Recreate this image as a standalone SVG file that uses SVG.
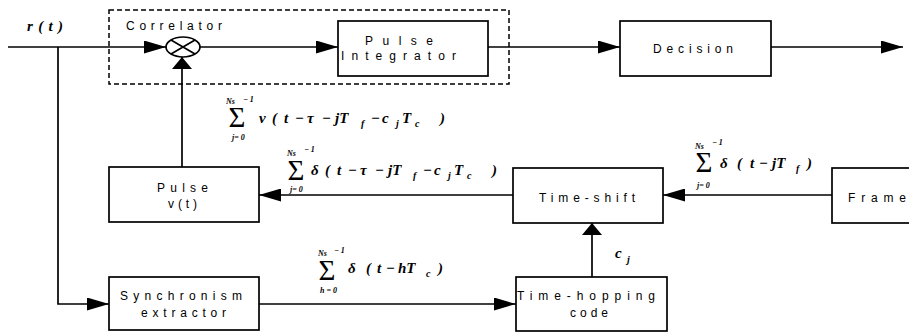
<svg xmlns="http://www.w3.org/2000/svg" width="909" height="333" viewBox="0 0 909 333">
<style>
.box{fill:#fff;stroke:#000;stroke-width:1.7}
.ln{fill:none;stroke:#000;stroke-width:1.7}
.lbl{font-family:"Liberation Sans",Arial,sans-serif;font-size:12px;fill:#000}
.m{font-family:"Liberation Serif","Times New Roman",serif;font-weight:bold;font-style:italic;font-size:15px;fill:#000}
.s{font-family:"Liberation Serif","Times New Roman",serif;font-weight:bold;font-style:italic;font-size:10px;fill:#000}
.i{font-family:"Liberation Serif","Times New Roman",serif;font-weight:bold;font-style:italic;font-size:8px;fill:#000}
.sig{font-family:"Liberation Serif","Times New Roman",serif;font-size:29px;fill:#000;text-anchor:middle}
</style>
<defs>
<marker id="ah" markerWidth="22" markerHeight="13" refX="22" refY="6.5" orient="auto" markerUnits="userSpaceOnUse"><path d="M0,0 L22,6.5 L0,13 z" fill="#000"/></marker>
<marker id="av" markerWidth="12" markerHeight="20" refX="12" refY="10" orient="auto" markerUnits="userSpaceOnUse"><path d="M0,0 L12,10 L0,20 z" fill="#000"/></marker>
</defs>
<rect width="909" height="333" fill="#fff"/>

<g id="input">
<text class="m" x="27" y="31" textLength="36" lengthAdjust="spacing" font-size="16">r ( t )</text>
</g>

<g id="correlator">
<rect x="109" y="10" width="400" height="74" fill="none" stroke="#000" stroke-width="1.5" stroke-dasharray="5,3"/>
<text class="lbl" x="126" y="30" textLength="96" lengthAdjust="spacing">Correlator</text>
</g>

<g id="multiplier">
<ellipse cx="183" cy="47" rx="17" ry="10" fill="#fff" stroke="#000" stroke-width="1.7"/>
<path d="M171,40 L195,54 M171,54 L195,40" stroke="#000" stroke-width="1.7"/>
</g>

<g id="integrator">
<rect class="box" x="338" y="21" width="150" height="55"/>
<text class="lbl" x="365" y="45" textLength="68" lengthAdjust="spacing">Pulse</text>
<text class="lbl" x="341" y="60" textLength="115" lengthAdjust="spacing">Integrator</text>
</g>

<g id="decision">
<rect class="box" x="620" y="21" width="151" height="55"/>
<text class="lbl" x="653" y="53" textLength="80" lengthAdjust="spacing">Decision</text>
</g>

<g id="pulse">
<rect class="box" x="109" y="167" width="150" height="55"/>
<text class="lbl" x="157" y="192" textLength="51" lengthAdjust="spacing">Pulse</text>
<text class="lbl" x="168" y="208" textLength="29" lengthAdjust="spacing">v(t)</text>
</g>

<g id="timeshift">
<rect class="box" x="513" y="168" width="150" height="55"/>
<text class="lbl" x="539" y="202" textLength="96" lengthAdjust="spacing">Time-shift</text>
</g>

<g id="frame">
<rect class="box" x="832" y="168" width="100" height="55"/>
<text class="lbl" x="848" y="202" textLength="58" lengthAdjust="spacing">Frame</text>
</g>

<g id="timehopping">
<rect class="box" x="516" y="277" width="151" height="54"/>
<text class="lbl" x="517" y="300" textLength="138" lengthAdjust="spacing">Time-hopping</text>
<text class="lbl" x="570" y="317" textLength="38" lengthAdjust="spacing">code</text>
</g>

<g id="sync">
<rect class="box" x="109" y="277" width="150" height="53"/>
<text class="lbl" x="120" y="300" textLength="122" lengthAdjust="spacing">Synchronism</text>
<text class="lbl" x="141" y="317" textLength="85" lengthAdjust="spacing">extractor</text>
</g>

<g id="connectors">
<path class="ln" d="M8,47 L166,47" marker-end="url(#ah)"/>
<path class="ln" d="M58,47 L58,304 L109,304" marker-end="url(#ah)"/>
<path class="ln" d="M200,47 L338,47" marker-end="url(#ah)"/>
<path class="ln" d="M488,47 L620,47" marker-end="url(#ah)"/>
<path class="ln" d="M771,47 L903,47" marker-end="url(#ah)"/>
<path class="ln" d="M182,167 L182,57" marker-end="url(#av)"/>
<path class="ln" d="M513,195 L259,195" marker-end="url(#ah)"/>
<path class="ln" d="M832,195 L663,195" marker-end="url(#ah)"/>
<path class="ln" d="M592,277 L592,223" marker-end="url(#av)"/>
<path class="ln" d="M259,304 L516,304" marker-end="url(#ah)"/>

<g id="label-v">
<text class="sig" x="237" y="127">Σ</text>
<text class="i" x="226" y="104">Ns</text>
<text class="i" x="243" y="102">− 1</text>
<text class="i" x="232" y="140">j= 0</text>
<text class="m"><tspan x="259" y="123">v</tspan><tspan x="272">(</tspan><tspan x="284">t</tspan><tspan x="295">−</tspan><tspan x="307">τ</tspan><tspan x="322">−</tspan><tspan x="335">jT</tspan><tspan class="s" x="361" y="127">f</tspan><tspan x="371" y="123">−</tspan><tspan x="382">c</tspan><tspan class="s" x="396" y="127">j</tspan><tspan x="402" y="123">T</tspan><tspan class="s" x="415" y="127">c</tspan><tspan x="440" y="123">)</tspan></text>
</g>

<g id="label-d1">
<text class="sig" x="296" y="180">Σ</text>
<text class="i" x="287" y="156">Ns</text>
<text class="i" x="304" y="152">− 1</text>
<text class="i" x="290" y="192">j= 0</text>
<text class="m"><tspan x="311" y="175">δ</tspan><tspan x="325">(</tspan><tspan x="337">t</tspan><tspan x="348">−</tspan><tspan x="360">τ</tspan><tspan x="375">−</tspan><tspan x="388">jT</tspan><tspan class="s" x="413" y="179">f</tspan><tspan x="423" y="175">−</tspan><tspan x="434">c</tspan><tspan class="s" x="448" y="179">j</tspan><tspan x="454" y="175">T</tspan><tspan class="s" x="467" y="179">c</tspan><tspan x="492" y="175">)</tspan></text>
</g>

<g id="label-d2">
<text class="sig" x="704" y="172">Σ</text>
<text class="i" x="695" y="149">Ns</text>
<text class="i" x="712" y="145">− 1</text>
<text class="i" x="697" y="188">j= 0</text>
<text class="m"><tspan x="720" y="168">δ</tspan><tspan x="737">(</tspan><tspan x="750">t</tspan><tspan x="759">−</tspan><tspan x="772">jT</tspan><tspan class="s" x="796" y="172">f</tspan><tspan x="807" y="168">)</tspan></text>
</g>

<g id="label-d3">
<text class="sig" x="327" y="280">Σ</text>
<text class="i" x="318" y="256">Ns</text>
<text class="i" x="334" y="253">− 1</text>
<text class="i" x="320" y="293">h = 0</text>
<text class="m"><tspan x="348" y="273">δ</tspan><tspan x="366">(</tspan><tspan x="377">t</tspan><tspan x="386">−</tspan><tspan x="398">hT</tspan><tspan class="s" x="426" y="277">c</tspan><tspan x="438" y="273">)</tspan></text>
</g>

<g id="label-cj">
<text class="m" x="615" y="258">c</text>
<text class="s" x="627" y="263">j</text>
</g>
</g>
</svg>
